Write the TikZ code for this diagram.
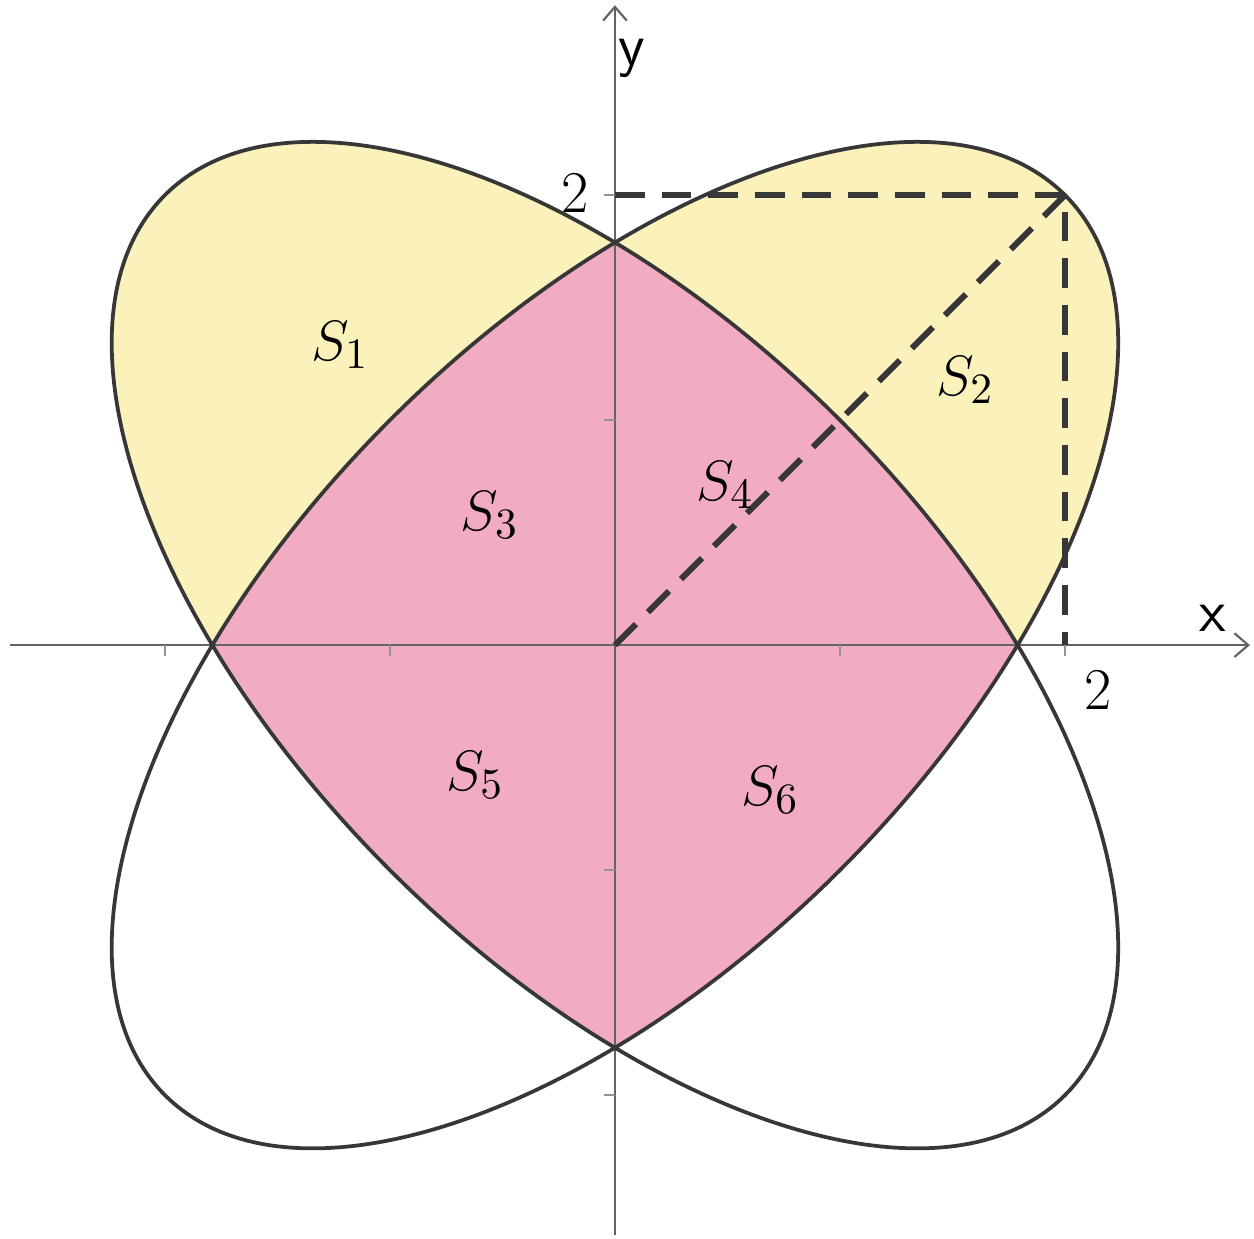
\documentclass[tikz,border=0pt]{standalone}
\usetikzlibrary{arrows.meta}
\definecolor{fillyellow}{RGB}{251,242,187}
\definecolor{fillpink}{RGB}{242,172,193}
\definecolor{outline}{RGB}{55,55,55}
\definecolor{axiscol}{RGB}{100,100,100}
\tikzset{
  ellA/.style={rotate=45},
  ellB/.style={rotate=-45},
  axisline/.style={axiscol, line width=0.55pt, -{Straight Barb[length=3.5pt,width=6pt]}},
  tickline/.style={axiscol!70, line width=0.5pt},
  outlineline/.style={outline, line width=0.95pt},
  dashline/.style={outline, line width=1.5pt, dash pattern=on 7.5pt off 4.3pt},
  lab/.style={inner sep=0pt},
}
\begin{document}
\begin{tikzpicture}[x=2cm,y=2cm, font=\fontsize{15}{18}\selectfont]
\useasboundingbox (-2.733,-2.636) rectangle (2.840,2.867);
% fills
\begin{scope}
  \clip (-3,0) rectangle (3,3);
  \fill[fillyellow, ellA] (0,0) ellipse [x radius=2.8284, y radius=1.4142];
  \fill[fillyellow, ellB] (0,0) ellipse [x radius=2.8284, y radius=1.4142];
\end{scope}
\begin{scope}
  \clip[ellA] (0,0) ellipse [x radius=2.8284, y radius=1.4142];
  \fill[fillpink, ellB] (0,0) ellipse [x radius=2.8284, y radius=1.4142];
\end{scope}
% axes
\coordinate (xl) at (-2.689,0);
\coordinate (xr) at (2.822,0);
\coordinate (yb) at (0,-2.622);
\coordinate (yt) at (0,2.844);
\draw[axisline] (xl) -- (xr);
\draw[axisline] (yb) -- (yt);
% ticks
\foreach \t in {-2,-1,1,2} {
  \draw[tickline] (\t,0) -- (\t,-0.05);
  \draw[tickline] (0,\t) -- (-0.05,\t);
}
% axis labels
\node[lab] (lx) at (2.658,0.12) {\textsf{x}};
\node[lab] (ly) at (0.076,2.609) {\textsf{y}};
\node[lab] (l2y) at (-0.178,2.01) {2};
\node[lab] (l2x) at (2.147,-0.2) {2};
% dashed lines
\coordinate (O) at (0,0);
\coordinate (P) at (2,2);
\coordinate (Py) at (0,2);
\coordinate (Px) at (2,0);
\draw[dashline] (Py) -- (P) -- (Px);
\draw[dashline] (O) -- (P);
% outlines
\draw[outlineline, ellA] (0,0) ellipse [x radius=2.8284, y radius=1.4142];
\draw[outlineline, ellB] (0,0) ellipse [x radius=2.8284, y radius=1.4142];
% region labels
\node (s1) at (-1.222,1.333) {$S_1$};
\node (s2) at (1.556,1.178) {$S_2$};
\node (s3) at (-0.556,0.578) {$S_3$};
\node (s4) at (0.489,0.711) {$S_4$};
\node (s5) at (-0.622,-0.578) {$S_5$};
\node (s6) at (0.689,-0.644) {$S_6$};
\end{tikzpicture}
\end{document}
